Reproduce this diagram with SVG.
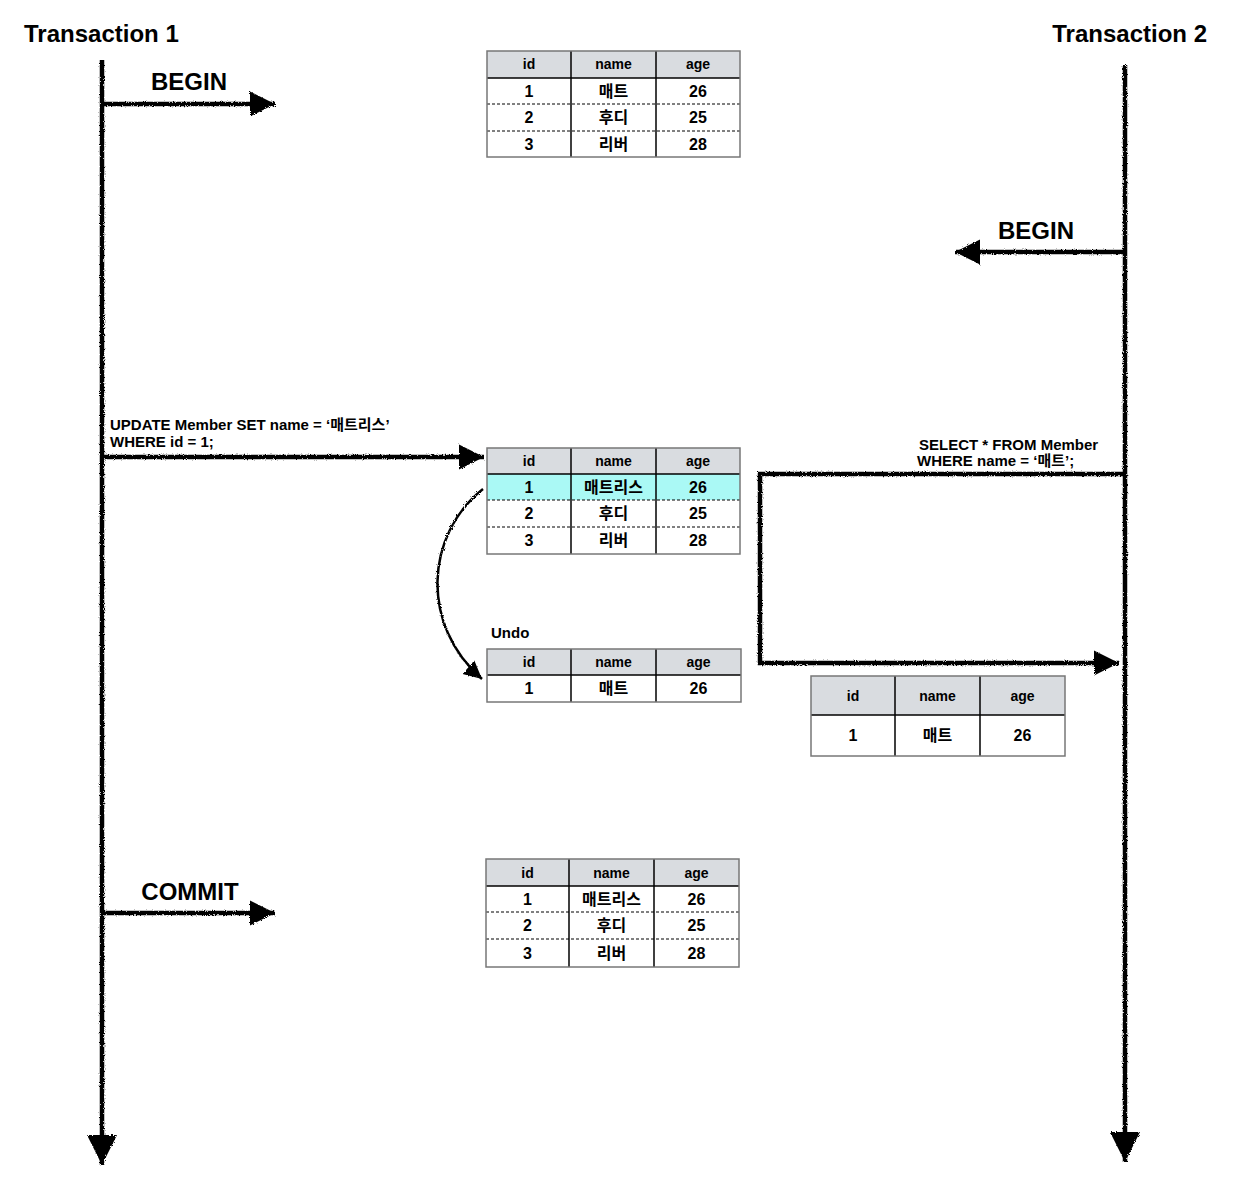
<svg xmlns="http://www.w3.org/2000/svg" width="1250" height="1182" viewBox="0 0 1250 1182">
<style>
text{font-family:"Liberation Sans","Noto Sans CJK KR",sans-serif;font-weight:bold;fill:#000}
.title{font-size:24px}
.big{font-size:24px;text-anchor:middle}
.sql{font-size:15px}
.cell{font-size:16px;text-anchor:middle}
.hdr{font-size:14px;text-anchor:middle}
.outer{fill:none;stroke:#777;stroke-width:1.5}
.hfill{fill:#d9dce0}
.vl{stroke:#000;stroke-width:1.5}
.dash{stroke:#000;stroke-width:1;stroke-dasharray:3 2}
.wire{fill:none;stroke:#000;stroke-width:4.5;filter:url(#rough)}
.thin{fill:none;stroke:#000;stroke-width:2.5;filter:url(#rough)}
</style>
<defs>
<filter id="rough" filterUnits="userSpaceOnUse" x="0" y="0" width="1250" height="1182">
<feTurbulence type="fractalNoise" baseFrequency="0.9" numOctaves="2" seed="3"/>
<feDisplacementMap in="SourceGraphic" scale="3"/>
</filter>
<marker id="ah" viewBox="0 0 10 10" refX="10" refY="5" markerUnits="userSpaceOnUse" markerWidth="25" markerHeight="27" orient="auto">
<path d="M0,0 L10,5 L0,10 z" fill="#000"/>
</marker>
<marker id="ahb" viewBox="0 0 10 10" refX="10" refY="5" markerUnits="userSpaceOnUse" markerWidth="30" markerHeight="34" orient="auto">
<path d="M0,0 L10,5 L0,10 z" fill="#000"/>
</marker>
<marker id="ahs" viewBox="0 0 10 10" refX="10" refY="5" markerUnits="userSpaceOnUse" markerWidth="18" markerHeight="20" orient="auto">
<path d="M0,0 L10,5 L0,10 z" fill="#000"/>
</marker>
</defs>
<rect width="1250" height="1182" fill="#fff"/>

<g id="transaction1">
<text class="title" x="24" y="42">Transaction 1</text>
</g>
<g id="transaction2">
<text class="title" x="1207" y="42" text-anchor="end">Transaction 2</text>
</g>

<g id="connectors">
<path class="wire" d="M102 60 L102 1165" marker-end="url(#ahb)"/>
<path class="wire" d="M1125 65 L1125 1162" marker-end="url(#ahb)"/>
<path class="wire" d="M104 104 L275 104" marker-end="url(#ah)"/>
<path class="wire" d="M1125 252 L955 252" marker-end="url(#ah)"/>
<path class="wire" d="M104 457 L484 457" marker-end="url(#ah)"/>
<path class="wire" d="M1125 474 L760 474 L760 663 L1119 663" marker-end="url(#ah)"/>
<path class="thin" d="M483 489 C425 535 420 625 482 679" marker-end="url(#ahs)"/>
<path class="wire" d="M104 913 L275 913" marker-end="url(#ah)"/>
</g>

<g id="labels">
<text class="big" x="189" y="90">BEGIN</text>
<text class="big" x="1036" y="239">BEGIN</text>
<text class="sql" x="110" y="430">UPDATE Member SET name = ‘매트리스’</text>
<text class="sql" x="110" y="447">WHERE id = 1;</text>
<text class="sql" x="919" y="450">SELECT * FROM Member</text>
<text class="sql" x="917" y="466">WHERE name = ‘매트’;</text>
<text class="big" x="190" y="900">COMMIT</text>
<text class="sql" x="491" y="638">Undo</text>
</g>

<g id="table-initial">
<rect class="hfill" x="487" y="51" width="253" height="27"/>
<line class="dash" x1="487" y1="104" x2="740" y2="104"/>
<line class="dash" x1="487" y1="131" x2="740" y2="131"/>
<line class="vl" x1="487" y1="78" x2="740" y2="78"/>
<line class="vl" x1="571" y1="51" x2="571" y2="157"/>
<line class="vl" x1="656" y1="51" x2="656" y2="157"/>
<rect class="outer" x="487" y="51" width="253" height="106"/>
<text class="hdr" x="529" y="69">id</text><text class="hdr" x="613.5" y="69">name</text><text class="hdr" x="698" y="69">age</text>
<text class="cell" x="529" y="96.5">1</text><text class="cell" x="613.5" y="96.5">매트</text><text class="cell" x="698" y="96.5">26</text>
<text class="cell" x="529" y="123">2</text><text class="cell" x="613.5" y="123">후디</text><text class="cell" x="698" y="123">25</text>
<text class="cell" x="529" y="149.5">3</text><text class="cell" x="613.5" y="149.5">리버</text><text class="cell" x="698" y="149.5">28</text>
</g>

<g id="table-updated">
<rect class="hfill" x="487" y="448" width="253" height="26"/>
<rect fill="#aaf9f5" x="487" y="474" width="253" height="26"/>
<line class="dash" x1="487" y1="500" x2="740" y2="500"/>
<line class="dash" x1="487" y1="527" x2="740" y2="527"/>
<line class="vl" x1="487" y1="474" x2="740" y2="474"/>
<line class="vl" x1="571" y1="448" x2="571" y2="554"/>
<line class="vl" x1="656" y1="448" x2="656" y2="554"/>
<rect class="outer" x="487" y="448" width="253" height="106"/>
<text class="hdr" x="529" y="466">id</text><text class="hdr" x="613.5" y="466">name</text><text class="hdr" x="698" y="466">age</text>
<text class="cell" x="529" y="492.5">1</text><text class="cell" x="613.5" y="492.5">매트리스</text><text class="cell" x="698" y="492.5">26</text>
<text class="cell" x="529" y="519">2</text><text class="cell" x="613.5" y="519">후디</text><text class="cell" x="698" y="519">25</text>
<text class="cell" x="529" y="546">3</text><text class="cell" x="613.5" y="546">리버</text><text class="cell" x="698" y="546">28</text>
</g>

<g id="table-undo">
<rect class="hfill" x="487" y="649" width="254" height="26"/>
<line class="vl" x1="487" y1="675" x2="741" y2="675"/>
<line class="vl" x1="571" y1="649" x2="571" y2="702"/>
<line class="vl" x1="656" y1="649" x2="656" y2="702"/>
<rect class="outer" x="487" y="649" width="254" height="53"/>
<text class="hdr" x="529" y="667">id</text><text class="hdr" x="613.5" y="667">name</text><text class="hdr" x="698.5" y="667">age</text>
<text class="cell" x="529" y="694">1</text><text class="cell" x="613.5" y="694">매트</text><text class="cell" x="698.5" y="694">26</text>
</g>

<g id="table-result">
<rect class="hfill" x="811" y="676" width="254" height="39"/>
<line class="vl" x1="811" y1="715" x2="1065" y2="715"/>
<line class="vl" x1="895" y1="676" x2="895" y2="756"/>
<line class="vl" x1="980" y1="676" x2="980" y2="756"/>
<rect class="outer" x="811" y="676" width="254" height="80"/>
<text class="hdr" x="853" y="700.5">id</text><text class="hdr" x="937.5" y="700.5">name</text><text class="hdr" x="1022.5" y="700.5">age</text>
<text class="cell" x="853" y="741">1</text><text class="cell" x="937.5" y="741">매트</text><text class="cell" x="1022.5" y="741">26</text>
</g>

<g id="table-commit">
<rect class="hfill" x="486" y="859" width="253" height="27"/>
<line class="dash" x1="486" y1="912" x2="739" y2="912"/>
<line class="dash" x1="486" y1="939" x2="739" y2="939"/>
<line class="vl" x1="486" y1="886" x2="739" y2="886"/>
<line class="vl" x1="569" y1="859" x2="569" y2="967"/>
<line class="vl" x1="654" y1="859" x2="654" y2="967"/>
<rect class="outer" x="486" y="859" width="253" height="108"/>
<text class="hdr" x="527.5" y="877.5">id</text><text class="hdr" x="611.5" y="877.5">name</text><text class="hdr" x="696.5" y="877.5">age</text>
<text class="cell" x="527.5" y="904.5">1</text><text class="cell" x="611.5" y="904.5">매트리스</text><text class="cell" x="696.5" y="904.5">26</text>
<text class="cell" x="527.5" y="931">2</text><text class="cell" x="611.5" y="931">후디</text><text class="cell" x="696.5" y="931">25</text>
<text class="cell" x="527.5" y="958.5">3</text><text class="cell" x="611.5" y="958.5">리버</text><text class="cell" x="696.5" y="958.5">28</text>
</g>
</svg>
